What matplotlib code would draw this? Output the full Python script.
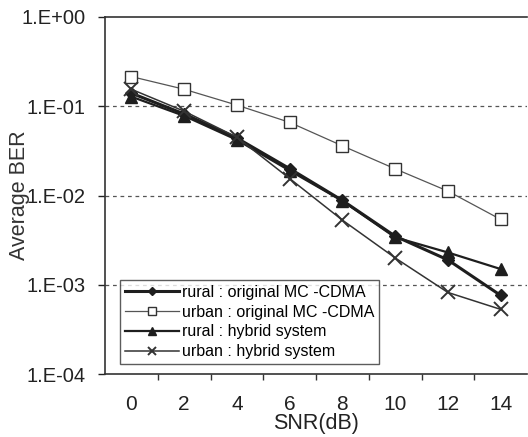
import matplotlib
matplotlib.use("Agg")
import matplotlib.pyplot as plt
import numpy as np

snr_labels = ["0", "2", "4", "6", "8", "10", "12", "14"]
rural_original = [0.140, 0.082, 0.044, 0.020, 0.0088, 0.0035, 0.0019, 0.00076]
urban_original = [0.215, 0.155, 0.103, 0.066, 0.036, 0.0199, 0.0112, 0.0054]
rural_hybrid = [0.128, 0.078, 0.042, 0.019, 0.0087, 0.0034, 0.0023, 0.0015]
urban_hybrid = [0.155, 0.088, 0.045, 0.0155, 0.0053, 0.0020, 0.00082, 0.00053]

plt.rcParams['font.family'] = ['Liberation Sans', 'DejaVu Sans']

fig = plt.figure(figsize=(5.28, 4.37), dpi=100)
ax = fig.add_axes([105/528, 1-374/437, 422/528, 357/437])

x = np.arange(len(snr_labels))
ink = '#1e1e1e'
ax.plot(x, rural_original, color=ink, lw=2.2, marker='D', ms=6.5, mfc=ink, mec=ink,
        label='rural : original MC -CDMA', zorder=4)
ax.plot(x, urban_original, color='#555555', lw=0.9, marker='s', ms=9, mfc='white', mec='#333333',
        mew=1.0, label='urban : original MC -CDMA', zorder=3)
ax.plot(x, rural_hybrid, color=ink, lw=1.6, marker='^', ms=8.5, mfc=ink, mec=ink,
        label='rural : hybrid system', zorder=4)
ax.plot(x, urban_hybrid, color='#333333', lw=1.1, marker='x', ms=10, mew=1.4, mec='#333333',
        label='urban : hybrid system', zorder=5)

ax.set_yscale('log')
ax.set_ylim(1e-4, 1)
ax.set_xlim(-0.5, 7.5)
ax.set_yticks([1e-4, 1e-3, 1e-2, 1e-1, 1])
ax.set_yticklabels(['1.E-04', '1.E-03', '1.E-02', '1.E-01', '1.E+00'])
ax.yaxis.set_minor_locator(matplotlib.ticker.NullLocator())
ax.set_xticks(x)
ax.set_xticklabels(snr_labels)
ax.set_xticks(np.arange(0.5, 7.5, 1), minor=True)
ax.tick_params(axis='x', which='major', length=0, pad=15, labelsize=15, colors='#222222')
ax.tick_params(axis='x', which='minor', length=4, width=1.0, direction='out', color='#333333')
ax.tick_params(axis='y', which='major', length=5, width=1.0, direction='out', pad=9,
               labelsize=14.5, colors='#222222')
for y in [1e-1, 1e-2, 1e-3]:
    ax.axhline(y, color='#555555', lw=0.9, ls=(0, (3, 3)), zorder=1)

for s in ['left', 'bottom', 'top']:
    ax.spines[s].set_color('#333333')
    ax.spines[s].set_linewidth(1.2)
ax.spines['right'].set_visible(False)

ax.set_xlabel('SNR(dB)', fontsize=15.5, color='#222222')
ax.xaxis.set_label_coords(0.5, -0.108)
ax.set_ylabel('Average BER', fontsize=15.5, color='#333333')
ax.yaxis.set_label_coords(-0.178, 0.5)

leg = ax.legend(loc='lower left', bbox_to_anchor=(0.035, 0.028), borderaxespad=0,
                fontsize=11.5, handlelength=3.4, handletextpad=0.2, labelspacing=0.3,
                markerscale=0.6, frameon=True, fancybox=False, borderpad=0.3)
leg.get_frame().set_edgecolor('#333333')
leg.get_frame().set_linewidth(1.0)

fig.savefig('out.png', dpi=100)
